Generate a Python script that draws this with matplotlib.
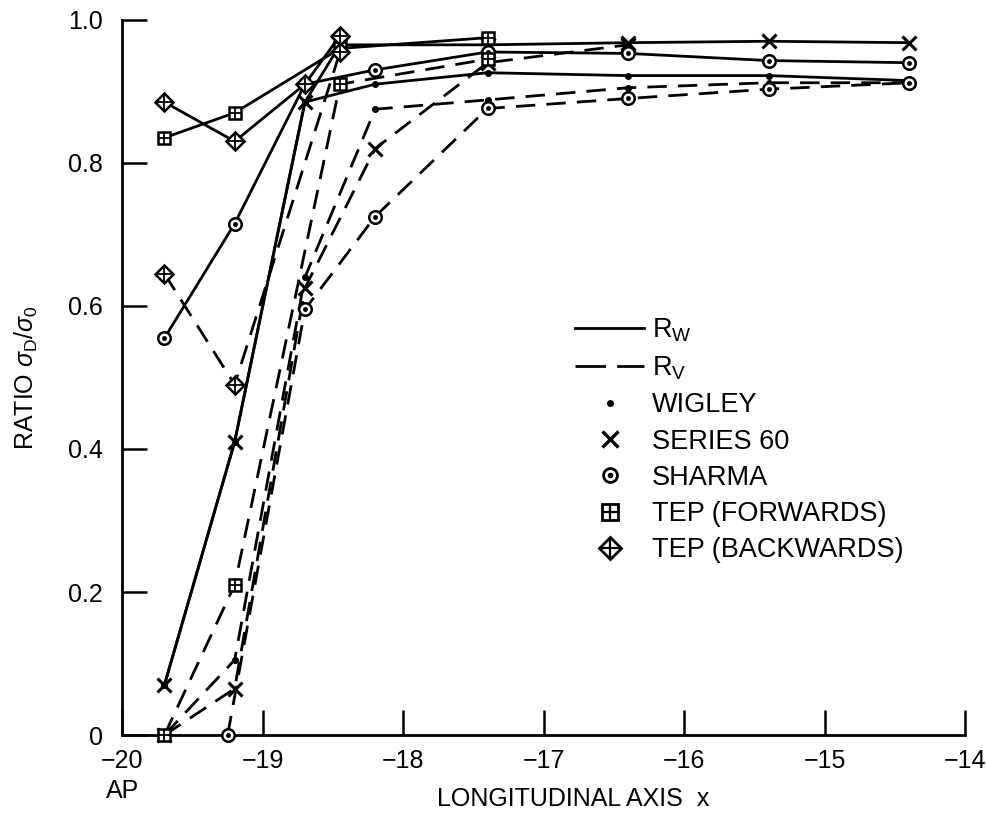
import matplotlib.pyplot as plt
from matplotlib.lines import Line2D

plt.rcParams['font.family'] = ['Liberation Sans', 'DejaVu Sans']
plt.rcParams['mathtext.fontset'] = 'custom'
plt.rcParams['mathtext.rm'] = 'Liberation Sans'
plt.rcParams['mathtext.it'] = 'Liberation Sans:italic'

# stations along the hull (x) and ratio values for each hull form
wig_w_x = [-19.7, -19.2, -18.7, -18.2, -17.4, -16.4, -15.4, -14.4]
wig_w_y = [0.07, 0.41, 0.885, 0.91, 0.926, 0.922, 0.922, 0.915]
wig_v_x = [-19.7, -19.2, -18.7, -18.2, -17.4, -16.4, -15.4, -14.4]
wig_v_y = [0.0, 0.105, 0.64, 0.875, 0.888, 0.905, 0.912, 0.912]

s60_w_x = [-19.7, -19.2, -18.7, -18.45, -17.4, -16.4, -15.4, -14.4]
s60_w_y = [0.07, 0.41, 0.885, 0.965, 0.965, 0.968, 0.97, 0.968]
s60_v_x = [-19.7, -19.2, -18.7, -18.2, -17.4, -16.4]
s60_v_y = [0.0, 0.065, 0.625, 0.82, 0.94, 0.965]

sha_w_x = [-19.7, -19.2, -18.7, -18.2, -17.4, -16.4, -15.4, -14.4]
sha_w_y = [0.555, 0.715, 0.91, 0.93, 0.955, 0.953, 0.943, 0.94]
sha_v_x = [-19.25, -18.7, -18.2, -17.4, -16.4, -15.4, -14.4]
sha_v_y = [0.0, 0.595, 0.725, 0.876, 0.89, 0.903, 0.912]

tepf_w_x = [-19.7, -19.2, -18.45, -17.4]
tepf_w_y = [0.835, 0.87, 0.96, 0.975]
tepf_v_x = [-19.7, -19.2, -18.45, -17.4]
tepf_v_y = [0.0, 0.21, 0.91, 0.945]

tepb_w_x = [-19.7, -19.2, -18.7, -18.45]
tepb_w_y = [0.885, 0.83, 0.91, 0.978]
tepb_v_x = [-19.7, -19.2, -18.45]
tepb_v_y = [0.645, 0.49, 0.955]

x_ticks = [-20, -19, -18, -17, -16, -15, -14]
x_labels = ['\u221220\nAP', '\u221219', '\u221218', '\u221217', '\u221216', '\u221215', '\u221214']
y_ticks = [0, 0.2, 0.4, 0.6, 0.8, 1.0]
y_labels = ['0', '0.2', '0.4', '0.6', '0.8', '1.0']

DASH = (7, 4)
LW = 2.0

fig = plt.figure(figsize=(9.86, 8.25), dpi=100)
ax = fig.add_axes([0.124, 0.109, 0.855, 0.867])


def line(xs, ys, dashed):
    l, = ax.plot(xs, ys, color='black', lw=LW, clip_on=False, zorder=2)
    if dashed:
        l.set_dashes(DASH)
    return l


def marks(xs, ys, kind):
    kw = dict(ls='none', color='black', clip_on=False, zorder=4)
    if kind == 'wigley':
        ax.plot(xs, ys, marker='o', ms=4, **kw)
    elif kind == 's60':
        ax.plot(xs, ys, marker='x', ms=10, mew=2.2, **kw)
    elif kind == 'sharma':
        ax.plot(xs, ys, marker='o', ms=9, mfc='white', mec='black', mew=1.8, **kw)
        ax.plot(xs, ys, marker='o', ms=2.5, **kw)
    elif kind == 'tepf':
        ax.plot(xs, ys, marker='s', ms=9, mfc='white', mec='black', mew=1.8, **kw)
        ax.plot(xs, ys, marker='+', ms=9, mew=1.3, **kw)
    elif kind == 'tepb':
        ax.plot(xs, ys, marker='D', ms=9, mfc='white', mec='black', mew=1.8, **kw)
        ax.plot(xs, ys, marker='+', ms=11, mew=1.3, **kw)


series = [
    (wig_w_x, wig_w_y, False, 'wigley'),
    (wig_v_x, wig_v_y, True, 'wigley'),
    (s60_w_x, s60_w_y, False, 's60'),
    (s60_v_x, s60_v_y, True, 's60'),
    (sha_w_x, sha_w_y, False, 'sharma'),
    (sha_v_x, sha_v_y, True, 'sharma'),
    (tepf_w_x, tepf_w_y, False, 'tepf'),
    (tepf_v_x, tepf_v_y, True, 'tepf'),
    (tepb_w_x, tepb_w_y, False, 'tepb'),
    (tepb_v_x, tepb_v_y, True, 'tepb'),
]
for xs, ys, dashed, kind in series:
    line(xs, ys, dashed)
    marks(xs, ys, kind)

ax.set_xlim(-20, -14)
ax.set_ylim(0, 1.0)
ax.spines['top'].set_visible(False)
ax.spines['right'].set_visible(False)
for s in ('left', 'bottom'):
    ax.spines[s].set_linewidth(2.0)

ax.set_xticks(x_ticks)
ax.set_xticklabels(x_labels, fontsize=18, linespacing=1.3, va='top')
ax.set_yticks(y_ticks)
ax.set_yticklabels(y_labels, fontsize=18)
ax.tick_params(axis='both', direction='in', length=18, width=1.8)
ax.tick_params(axis='y', pad=14)
ax.tick_params(axis='x', pad=10)

ax.set_xlabel('LONGITUDINAL AXIS  x', fontsize=18, labelpad=-11, x=0.535)
ax.set_ylabel('RATIO $\\sigma_\\mathregular{D}/\\sigma_\\mathregular{0}$', fontsize=18, labelpad=20)

# key
def mk(kind):
    kw = dict(ls='none', color='black')
    if kind == 'wigley':
        return Line2D([], [], marker='o', ms=4, **kw)
    if kind == 's60':
        return Line2D([], [], marker='x', ms=12, mew=2.4, **kw)
    if kind == 'sharma':
        return (Line2D([], [], marker='o', ms=10, mfc='white', mec='black', mew=2, **kw),
                Line2D([], [], marker='o', ms=3, **kw))
    if kind == 'tepf':
        return (Line2D([], [], marker='s', ms=11, mfc='white', mec='black', mew=2, **kw),
                Line2D([], [], marker='+', ms=11, mew=1.6, **kw))
    return (Line2D([], [], marker='D', ms=11, mfc='white', mec='black', mew=2, **kw),
            Line2D([], [], marker='+', ms=14, mew=1.6, **kw))


h_w = Line2D([], [], color='black', lw=LW)
h_v = Line2D([], [], color='black', lw=LW, dashes=(11, 4))
handles = [h_w, h_v, mk('wigley'), mk('s60'), mk('sharma'), mk('tepf'), mk('tepb')]
labels = ['R$_\\mathregular{W}$', 'R$_\\mathregular{V}$', 'WIGLEY', 'SERIES 60',
          'SHARMA', 'TEP (FORWARDS)', 'TEP (BACKWARDS)']
ax.legend(handles, labels, loc='upper left', bbox_to_anchor=(0.537, 0.585),
          frameon=False, fontsize=19.5, handlelength=2.55, handletextpad=0.28,
          labelspacing=0.38, borderpad=0, borderaxespad=0)

fig.savefig('out.png', dpi=100)
